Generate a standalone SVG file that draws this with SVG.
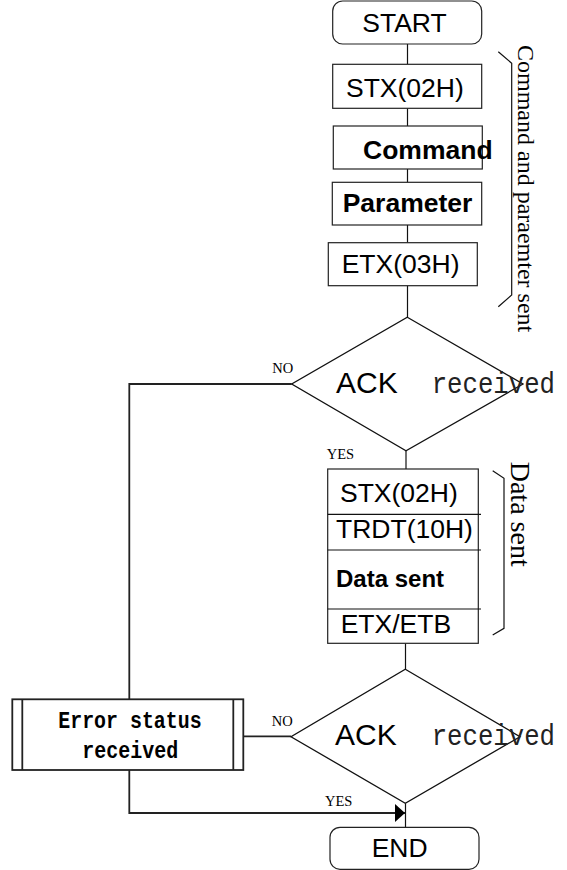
<svg xmlns="http://www.w3.org/2000/svg" width="567" height="870" viewBox="0 0 567 870">
<defs>
<style>
.box{fill:#fff;stroke:#222;stroke-width:1.2}
.dia{fill:#fff;stroke:#111;stroke-width:1.3}
.ln{fill:none;stroke:#111;stroke-width:1.2}
.thick{fill:none;stroke:#222;stroke-width:1.8}
.t{font-family:"Liberation Sans",Arial,sans-serif;font-size:26.5px;fill:#000}
.b{font-weight:bold}
.ack{font-family:"Liberation Sans",Arial,sans-serif;font-size:30px;fill:#000}
.mono{font-family:"Liberation Mono","Courier New",monospace;fill:#000}
.rcv{font-size:29px;fill:#222}
.err{font-size:23px;font-weight:bold}
.lab{font-family:"Liberation Serif","Times New Roman",serif;font-size:14.5px;fill:#000}
.vert{font-family:"Liberation Serif","Times New Roman",serif;fill:#000}
</style>
<marker id="arr" viewBox="0 0 10 18" refX="10" refY="9" markerWidth="10" markerHeight="18" markerUnits="userSpaceOnUse" orient="auto">
<path d="M0,0 L10,9 L0,18 Z" fill="#000"/>
</marker>
</defs>
<rect width="567" height="870" fill="#fff"/>

<g id="connectors">
<line class="ln" x1="407.5" y1="44" x2="407.5" y2="64.3"/>
<line class="ln" x1="407.5" y1="108.3" x2="407.5" y2="126"/>
<line class="ln" x1="407.5" y1="169" x2="407.5" y2="182.3"/>
<line class="ln" x1="407.5" y1="225" x2="407.5" y2="242.7"/>
<line class="ln" x1="407.5" y1="285.7" x2="407.5" y2="317.3"/>
<line class="ln" x1="406" y1="450.7" x2="406" y2="469"/>
<line class="ln" x1="405.5" y1="643.3" x2="405.5" y2="669.3"/>
<line class="ln" x1="405.5" y1="803.3" x2="405.5" y2="827.3"/>
<polyline class="thick" points="291.7,384 129.3,384 129.3,699.3"/>
<line class="thick" x1="243.3" y1="736.3" x2="291" y2="736.3"/>
<polyline class="thick" points="129.3,770 129.3,813 405,813" marker-end="url(#arr)"/>
<polyline class="ln" points="498.3,51.7 511.7,63.3 511.7,295 498.3,306.7"/>
<polyline class="ln" points="492.7,470.7 504,478.3 504,628.3 492.7,635"/>
</g>

<g id="start">
<rect class="box" x="332.7" y="1" width="149" height="43" rx="10" ry="10"/>
<text class="t" x="362.3" y="31.7">START</text>
</g>

<g id="stx1">
<rect class="box" x="332.7" y="64.3" width="149" height="44"/>
<text class="t" x="346" y="96.7">STX(02H)</text>
</g>

<g id="command">
<rect class="box" x="333.3" y="126" width="149" height="43"/>
<text class="t b" x="363" y="158.5">Command</text>
</g>

<g id="parameter">
<rect class="box" x="332.3" y="182.3" width="149.4" height="42.7"/>
<text class="t b" x="342.7" y="212.3">Parameter</text>
</g>

<g id="etx1">
<rect class="box" x="328.3" y="242.7" width="149" height="43"/>
<text class="t" x="341.7" y="273.3">ETX(03H)</text>
</g>

<g id="cmd-brace-label">
<text class="vert" font-size="24" transform="translate(518,45) rotate(90)">Command and paraemter sent</text>
</g>

<g id="ack1">
<polygon class="dia" points="407.3,317.3 523,384 406,450.7 291.7,384"/>
<text class="ack" x="336" y="393.3">ACK</text>
<text class="mono rcv" x="431.7" y="392.7" textLength="123.3" lengthAdjust="spacingAndGlyphs">received</text>
<text class="lab" x="272.3" y="372.7">NO</text>
<text class="lab" x="326.7" y="459.3">YES</text>
</g>

<g id="data-block">
<rect class="box" x="327.7" y="469" width="150.6" height="174.3"/>
<line class="ln" x1="327.7" y1="514.3" x2="481" y2="514.3"/>
<line class="ln" x1="327.7" y1="550" x2="481" y2="550"/>
<line class="ln" x1="327.7" y1="609" x2="481" y2="609"/>
<text class="t" x="340" y="502.3">STX(02H)</text>
<text class="t" x="336" y="538.3">TRDT(10H)</text>
<text class="t b" x="336" y="587.3" style="font-size:24px">Data sent</text>
<text class="t" x="340.7" y="632.7">ETX/ETB</text>
</g>

<g id="data-brace-label">
<text class="vert" font-size="28" transform="translate(510.7,461.7) rotate(90)">Data sent</text>
</g>

<g id="ack2">
<polygon class="dia" points="405.3,669.3 520,736.7 405.3,803.3 291,736.7"/>
<text class="ack" x="335" y="745">ACK</text>
<text class="mono rcv" x="431.7" y="745" textLength="123.3" lengthAdjust="spacingAndGlyphs">received</text>
<text class="lab" x="271.7" y="726">NO</text>
<text class="lab" x="325" y="805.7">YES</text>
</g>

<g id="error">
<rect class="thick" x="12.3" y="699.3" width="231" height="70.7" fill="#fff"/>
<line class="thick" x1="22.3" y1="699.3" x2="22.3" y2="770"/>
<line class="thick" x1="233.3" y1="699.3" x2="233.3" y2="770"/>
<text class="mono err" x="58.3" y="728.3" textLength="143.3" lengthAdjust="spacingAndGlyphs">Error status</text>
<text class="mono err" x="82.3" y="758.3" textLength="96" lengthAdjust="spacingAndGlyphs">received</text>
</g>

<g id="end">
<rect class="box" x="330" y="827.3" width="149" height="42" rx="10" ry="10"/>
<text class="t" x="371.7" y="856.7">END</text>
</g>
</svg>
